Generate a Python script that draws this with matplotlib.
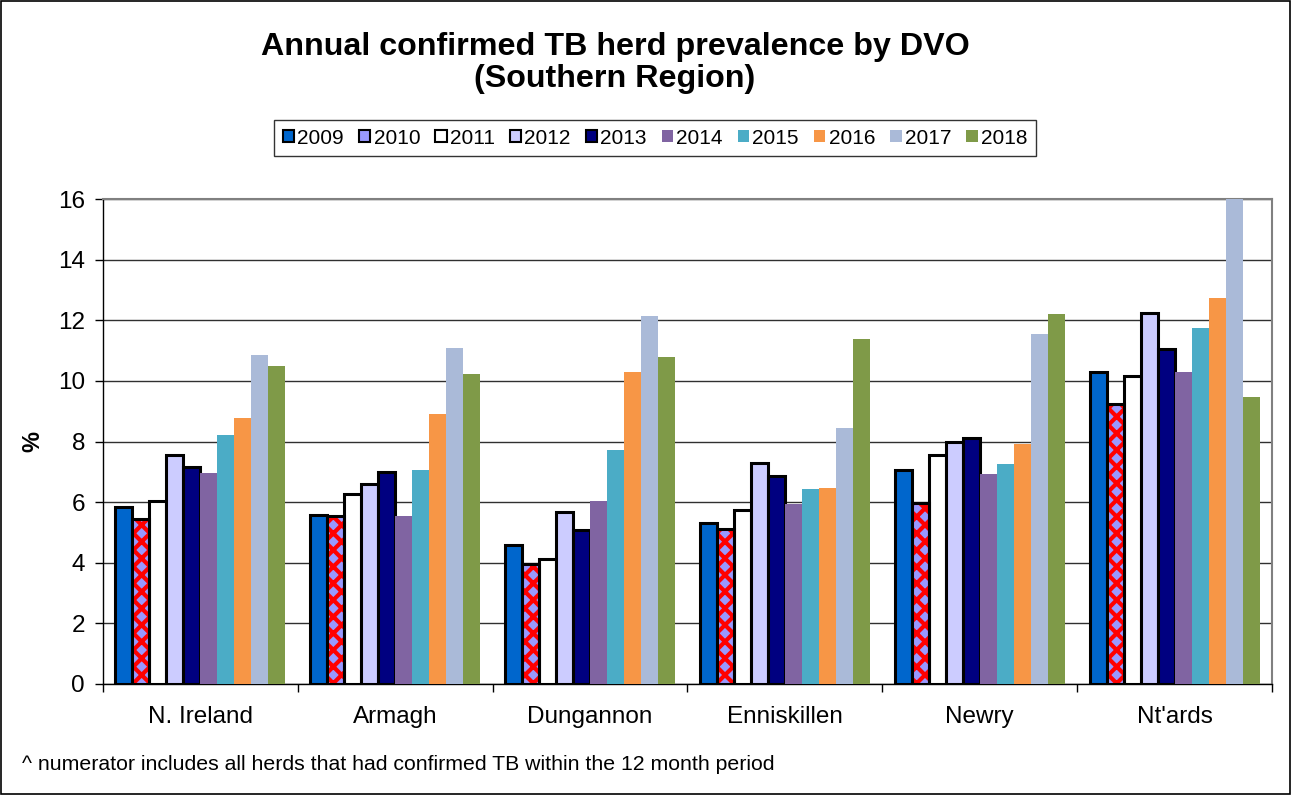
import matplotlib
matplotlib.use("Agg")
import matplotlib.pyplot as plt
import numpy as np
from matplotlib.patches import Patch, Rectangle

plt.rcParams['font.family'] = ['Liberation Sans', 'DejaVu Sans']
plt.rcParams['hatch.linewidth'] = 3.0

categories = ["N. Ireland", "Armagh", "Dungannon", "Enniskillen", "Newry", "Nt'ards"]
years = ["2009", "2010", "2011", "2012", "2013", "2014", "2015", "2016", "2017", "2018"]

v2009 = [5.84, 5.58, 4.59, 5.30, 7.05, 10.29]
v2010 = [5.44, 5.53, 3.96, 5.10, 5.98, 9.24]
v2011 = [6.04, 6.28, 4.12, 5.75, 7.55, 10.16]
v2012 = [7.55, 6.60, 5.67, 7.28, 8.00, 12.24]
v2013 = [7.16, 7.00, 5.08, 6.85, 8.10, 11.05]
v2014 = [6.96, 5.55, 6.04, 5.93, 6.92, 10.29]
v2015 = [8.21, 7.05, 7.72, 6.43, 7.27, 11.74]
v2016 = [8.76, 8.90, 10.30, 6.47, 7.92, 12.73]
v2017 = [10.85, 11.08, 12.13, 8.45, 11.53, 16.00]
v2018 = [10.49, 10.22, 10.78, 11.37, 12.20, 9.47]
series = [v2009, v2010, v2011, v2012, v2013, v2014, v2015, v2016, v2017, v2018]

colors = ["#0066CC", "#9999FF", "#FFFFFF", "#CCCCFF", "#000080",
          "#8064A2", "#4BACC6", "#F79646", "#AABAD8", "#7F9A48"]
outlined = [True, True, True, True, True, False, False, False, False, False]

fig = plt.figure(figsize=(12.92, 7.95), dpi=100)
ax = fig.add_axes([103/1292, 1-684/795, (1272-103)/1292, (684-199)/795])

x = np.arange(len(categories))
n = len(years)
w = 0.0873
for i, (vals, c, ol) in enumerate(zip(series, colors, outlined)):
    pos = x + (i - (n-1)/2) * w
    if years[i] == "2010":
        ax.bar(pos, vals, w, color=c, edgecolor="#FF0000", linewidth=0,
               hatch="xx", zorder=3)
        ax.bar(pos, vals, w, facecolor="none", edgecolor="black",
               linewidth=2.2, zorder=4)
    else:
        ax.bar(pos, vals, w, color=c, edgecolor="black" if ol else c,
               linewidth=2.2 if ol else 0, zorder=3)

ax.set_xlim(-0.5, 5.5)
ax.set_ylim(0, 16)
ax.set_yticks(np.arange(0, 17, 2))
ax.tick_params(axis='y', labelsize=17.5, length=6, width=1, direction='out', pad=7)
ax.set_xticks(x)
ax.set_xticklabels(categories)
ax.tick_params(axis='x', which='major', length=0, labelsize=17.5, pad=16)
ax.set_xticks(np.arange(-0.5, 6, 1), minor=True)
ax.tick_params(axis='x', which='minor', length=6, width=1, direction='out')
ax.yaxis.grid(True, color='#303030', linewidth=1)
ax.set_axisbelow(True)
for s in ['left', 'bottom']:
    ax.spines[s].set_color('black')
    ax.spines[s].set_linewidth(1)
for s in ['top', 'right']:
    ax.spines[s].set_color('#808080')
    ax.spines[s].set_linewidth(1.5)

fig.text(33/1292, 1-442/795, "%", rotation=90, fontsize=17, fontweight='bold',
         ha='center', va='center')

fig.text(615/1292, 1-63/795, "Annual confirmed TB herd prevalence by DVO\n(Southern Region)",
         ha='center', va='center', fontsize=23.2, fontweight='bold', linespacing=1.05)

handles = [Patch(facecolor=c, edgecolor="black" if ol else c, linewidth=1.5 if ol else 0)
           for c, ol in zip(colors, outlined)]
leg = fig.legend(handles, years, loc='center', bbox_to_anchor=(655/1292, 1-138/795),
                 ncol=10, fontsize=15, handlelength=0.55, handleheight=0.55,
                 handletextpad=0.15, columnspacing=0.72, frameon=True, fancybox=False,
                 edgecolor='black', borderpad=0.4)
leg.get_frame().set_linewidth(1)

fig.text(22/1292, 1-765/795,
         "^ numerator includes all herds that had confirmed TB within the 12 month period",
         ha='left', va='center', fontsize=15.3)

fig.patches.append(Rectangle((0.0005, 0.0008), 0.998, 0.998, transform=fig.transFigure,
                             fill=False, edgecolor='black', linewidth=1.2))

fig.savefig("out.png", dpi=100)
